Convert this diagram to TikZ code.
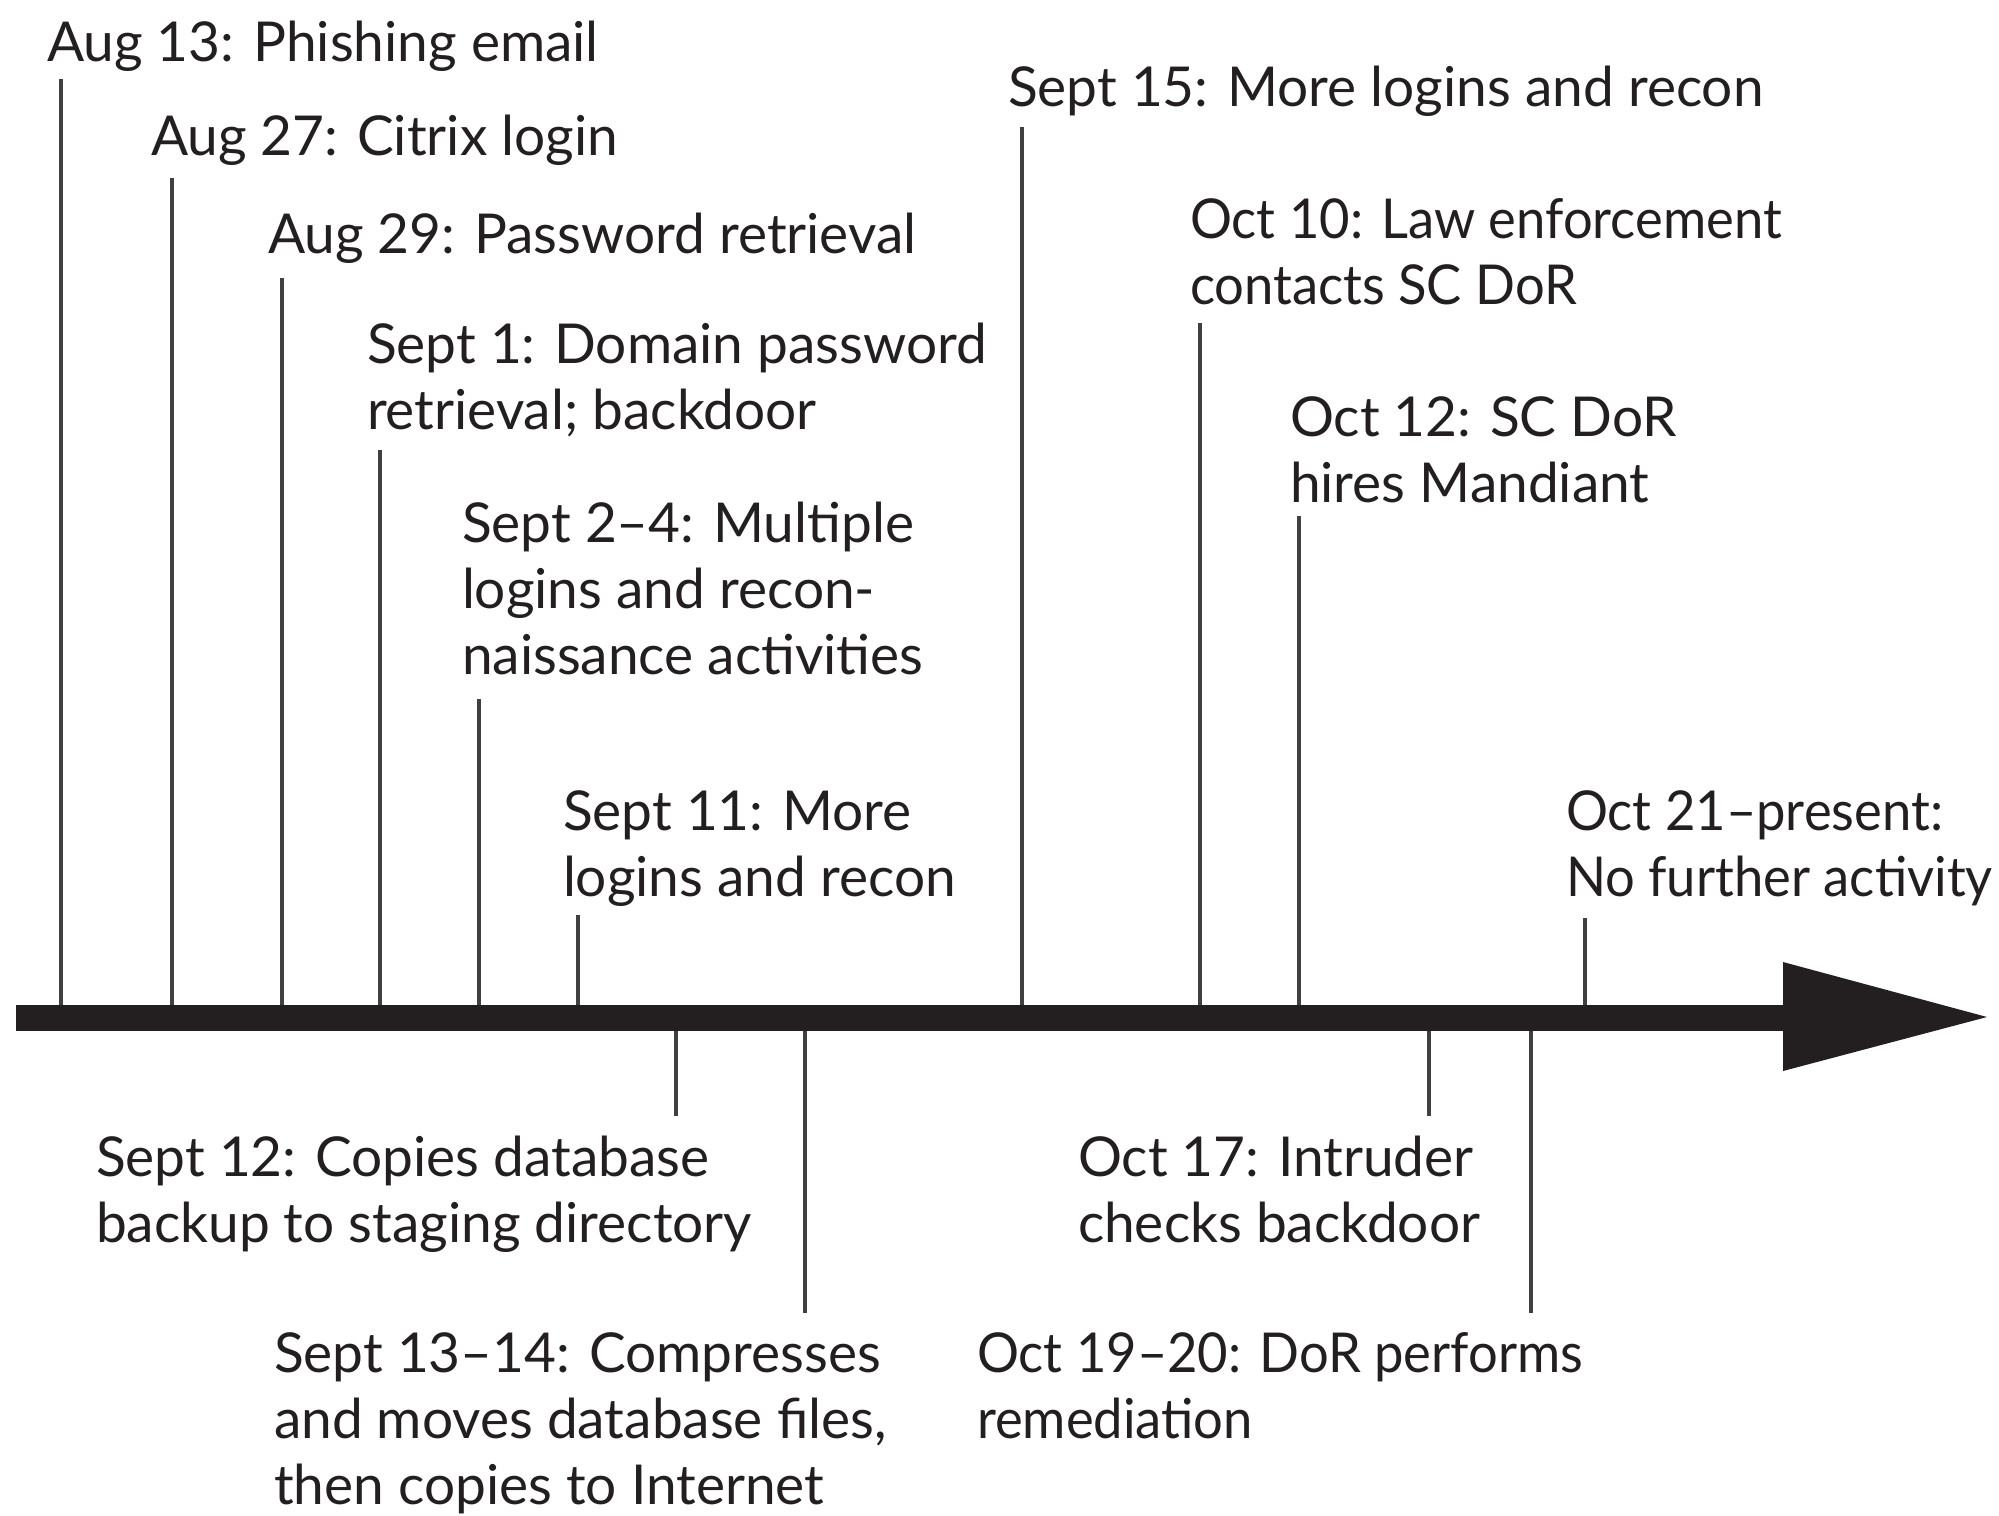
\documentclass[tikz,border=0pt]{standalone}
\usepackage{fontspec}
\setmainfont{Lato}
\newfontfamily\narrowlato[FakeStretch=0.955]{Lato}
\definecolor{ink}{HTML}{231F20}
\definecolor{tickc}{HTML}{404040}
\newcommand\stk[1]{\vtop{\baselineskip=33pt\lineskiplimit=-100pt\halign{##\hfil\cr#1\crcr}}}
\begin{document}
\begin{tikzpicture}[x=0.5pt,y=-0.5pt,
  lbl/.style={anchor=base west,inner sep=0pt,outer sep=0pt,text=ink,font=\fontsize{27.5}{33}\selectfont},
  nlbl/.style={lbl,font=\narrowlato\fontsize{27.5}{33}\selectfont},
  tickline/.style={draw=tickc,line width=2pt}]
\useasboundingbox (0,0) rectangle (1999,1516);
% labels
\node[lbl] (n1) at (47,61) {Aug 13: Phishing email};
\node[lbl] (n2) at (151,155) {Aug 27: Citrix login};
\node[lbl] (n3) at (268,253) {Aug 29: Password retrieval};
\node[lbl] (n4) at (367,363) {\stk{Sept 1: Domain password\cr retrieval; backdoor}};
\node[lbl] (n5) at (462,542) {\stk{Sept 2–4: Multiple\cr logins and recon-\cr naissance activities}};
\node[lbl] (n6) at (563,830) {\stk{Sept 11: More\cr logins and recon}};
\node[lbl] (n7) at (1008,106) {Sept 15: More logins and recon};
\node[nlbl] (n8) at (1190,238) {\stk{Oct 10: Law enforcement\cr contacts SC DoR}};
\node[lbl] (n9) at (1290,436) {\stk{Oct 12: SC DoR\cr hires Mandiant}};
\node[nlbl] (n10) at (1566,830) {\stk{Oct 21–present:\cr No further activity}};
\node[lbl] (n11) at (96,1176) {\stk{Sept 12: Copies database\cr backup to staging directory}};
\node[lbl] (n12) at (274,1372) {\stk{Sept 13–14: Compresses\cr and moves database files,\cr then copies to Internet}};
\node[lbl] (n13) at (1078,1176) {\stk{Oct 17: Intruder\cr checks backdoor}};
\node[nlbl] (n14) at (977,1372) {\stk{Oct 19–20: DoR performs\cr remediation}};
% tick coordinates
\foreach \i/\x/\y in {1/61/79,2/172/178,3/282/278,4/380/450,5/479/699,6/578/915,7/1022/127,8/1200/323,9/1299/516,10/1585/918,11/676/1116,12/805/1313,13/1429/1116,14/1531/1313}{
  \coordinate (a\i) at (\x,1018);
  \coordinate (e\i) at (\x,\y);
  \draw[tickline] (a\i) -- (e\i);
}
% axis
\coordinate (axL) at (16,1018);
\coordinate (axB) at (1784,1018);
\coordinate (axR) at (1987,1017);
\coordinate (axT) at (1783,962);
\coordinate (axD) at (1783,1071);
\draw[ink,line width=13pt] (axL) -- (axB);
\fill[ink] (axT) -- (axR) -- (axD) -- cycle;
\end{tikzpicture}
\end{document}
